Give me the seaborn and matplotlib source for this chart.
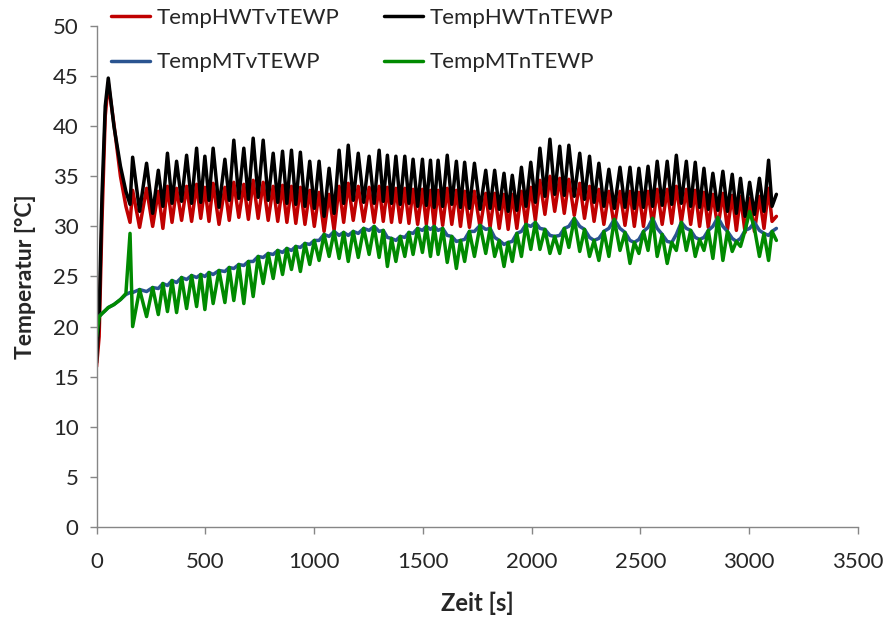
import matplotlib
matplotlib.use("Agg")
import matplotlib.pyplot as plt
import seaborn as sns
import pandas as pd

# time axis [s] (peak / trough sampling points)
zeit = [
    0, 12, 25, 40, 54, 80, 110, 135, 154,
    166, 198, 230, 258, 284, 305, 326, 347, 368, 391,
    414, 437, 460, 479, 498, 517, 536, 563, 590, 610,
    631, 654, 677, 698, 720, 743, 766, 789, 812, 833,
    855, 875, 896, 916, 937, 958, 980, 1001, 1023, 1046,
    1069, 1092, 1115, 1136, 1157, 1180, 1203, 1228, 1253, 1276,
    1299, 1318, 1337, 1356, 1376, 1396, 1417, 1436, 1455, 1476,
    1498, 1516, 1535, 1552, 1570, 1591, 1612, 1633, 1654, 1673,
    1692, 1714, 1737, 1763, 1789, 1809, 1830, 1851, 1873, 1892,
    1911, 1932, 1953, 1974, 1996, 2017, 2038, 2061, 2084, 2106,
    2129, 2150, 2171, 2196, 2221, 2243, 2266, 2287, 2309, 2332,
    2355, 2380, 2406, 2429, 2452, 2472, 2493, 2514, 2535, 2556,
    2577, 2600, 2623, 2644, 2665, 2688, 2711, 2731, 2752, 2772,
    2792, 2812, 2833, 2856, 2879, 2900, 2922, 2941, 2960, 2981,
    3002, 3024, 3047, 3068, 3089, 3105, 3125,
]

temp_hwt_v = [
    16.0, 19.0, 30.5, 41.0, 44.3, 40.2, 35.0, 32.0, 30.4,
    33.6, 29.9, 33.8, 30.0, 33.5, 29.8, 34.0, 30.4, 33.8, 30.6,
    34.0, 30.5, 34.2, 30.8, 33.9, 30.5, 34.3, 30.2, 33.9, 30.6,
    34.4, 30.9, 34.2, 30.7, 34.6, 30.8, 34.4, 30.6, 34.0, 30.5,
    34.1, 30.4, 34.0, 30.3, 33.9, 30.2, 33.6, 30.0, 33.4, 29.5,
    33.2, 29.6, 34.0, 30.4, 34.3, 30.6, 34.0, 30.5, 33.9, 30.4,
    34.0, 30.5, 33.9, 30.4, 33.8, 30.4, 33.8, 30.3, 33.7, 30.2,
    33.7, 30.2, 33.6, 30.1, 33.6, 30.1, 33.8, 30.2, 33.6, 30.0,
    33.5, 29.9, 33.5, 29.9, 33.3, 29.9, 33.3, 29.8, 33.2, 29.7,
    33.2, 29.8, 33.5, 30.2, 33.9, 30.6, 34.6, 31.2, 35.0, 31.5,
    34.8, 31.3, 34.7, 31.1, 34.3, 30.8, 34.0, 30.5, 33.7, 30.2,
    33.5, 30.0, 33.5, 30.1, 33.5, 30.0, 33.4, 30.0, 33.5, 30.1,
    33.7, 30.2, 33.7, 30.3, 34.0, 30.4, 33.7, 30.2, 33.6, 30.0,
    33.4, 29.9, 33.2, 29.8, 33.3, 29.7, 33.1, 29.6, 33.0, 29.4,
    32.8, 29.5, 33.0, 29.8, 33.8, 30.5, 31.0,
]

temp_hwt_n = [
    16.4, 21.0, 33.0, 42.0, 44.8, 40.0, 36.0, 33.5, 32.2,
    36.9, 31.5, 36.3, 31.3, 35.6, 32.0, 37.3, 32.3, 36.5, 32.5,
    37.1, 32.3, 37.8, 32.4, 37.0, 32.6, 37.8, 31.9, 36.7, 32.6,
    38.6, 32.8, 37.8, 32.7, 38.8, 32.9, 38.6, 32.6, 37.3, 32.4,
    37.5, 32.3, 37.6, 32.2, 37.4, 32.0, 36.5, 31.8, 36.5, 31.0,
    35.8, 31.3, 37.6, 32.3, 38.1, 32.6, 37.3, 32.4, 37.0, 32.3,
    37.6, 32.5, 37.1, 32.3, 37.0, 32.2, 37.0, 32.3, 36.7, 32.0,
    36.7, 32.1, 36.6, 31.9, 36.6, 32.0, 37.1, 32.2, 36.5, 31.9,
    36.4, 31.8, 36.3, 31.7, 35.6, 31.8, 35.6, 31.7, 35.3, 31.5,
    35.1, 31.6, 35.9, 32.0, 36.4, 32.4, 37.8, 33.0, 38.7, 33.2,
    38.0, 33.1, 38.1, 33.0, 37.3, 32.7, 37.0, 32.4, 36.3, 32.0,
    35.7, 31.8, 35.9, 31.9, 35.9, 31.8, 35.8, 31.9, 36.0, 32.0,
    36.5, 32.1, 36.5, 32.2, 37.1, 32.3, 36.5, 32.0, 36.4, 31.9,
    35.8, 31.7, 35.3, 31.6, 35.5, 31.5, 35.2, 31.3, 34.8, 31.0,
    34.4, 31.2, 34.8, 31.5, 36.6, 32.0, 33.2,
]

temp_mt_v = [
    20.6, 21.0, 21.3, 21.6, 21.9, 22.2, 22.7, 23.2, 23.4,
    23.4, 23.7, 23.5, 23.9, 23.8, 24.3, 24.1, 24.6, 24.4, 24.9,
    24.7, 25.1, 24.9, 25.2, 25.0, 25.4, 25.2, 25.6, 25.5, 25.9,
    25.8, 26.2, 26.1, 26.5, 26.5, 27.0, 26.9, 27.3, 27.2, 27.6,
    27.4, 27.8, 27.6, 28.0, 27.9, 28.3, 28.2, 28.6, 28.6, 29.2,
    29.0, 29.5, 29.1, 29.4, 29.1, 29.5, 29.3, 29.8, 29.6, 30.0,
    29.5, 29.6, 28.9, 28.8, 28.6, 29.0, 28.9, 29.4, 29.3, 29.8,
    29.6, 30.0, 29.7, 30.0, 29.6, 29.8, 29.1, 29.0, 28.5, 28.6,
    28.7, 29.5, 29.5, 30.1, 29.7, 29.8, 28.9, 28.6, 28.2, 28.4,
    28.5, 29.3, 29.5, 30.2, 30.0, 30.4, 29.8, 29.7, 29.1, 29.0,
    29.1, 29.8, 30.0, 30.8, 30.0, 29.7, 28.9, 28.6, 28.8, 29.5,
    29.8, 30.7, 29.8, 29.4, 28.6, 28.4, 28.7, 29.5, 29.9, 30.8,
    29.8, 29.2, 28.5, 28.4, 29.2, 30.4, 29.8, 29.6, 28.9, 28.7,
    28.9, 29.6, 30.0, 30.9, 30.0, 29.5, 28.8, 28.5, 28.8, 29.6,
    29.8, 30.4, 29.6, 29.3, 29.1, 29.5, 29.8,
]

temp_mt_n = [
    19.0, 21.0, 21.3, 21.6, 21.9, 22.2, 22.7, 23.3, 29.3,
    20.0, 23.7, 21.0, 23.9, 21.2, 24.3, 21.5, 24.6, 21.4, 24.9,
    21.8, 25.1, 22.0, 25.2, 21.7, 25.4, 22.3, 25.6, 22.4, 25.9,
    22.6, 26.2, 22.3, 26.5, 23.0, 27.0, 24.3, 27.3, 24.8, 27.6,
    25.2, 27.8, 25.7, 28.0, 25.5, 28.3, 26.2, 28.6, 26.6, 29.2,
    27.0, 29.5, 26.8, 29.4, 26.5, 29.5, 26.9, 29.8, 27.2, 30.0,
    26.9, 29.6, 26.0, 28.8, 26.5, 29.0, 27.0, 29.4, 27.2, 29.8,
    27.4, 30.0, 27.0, 30.0, 27.2, 29.8, 26.4, 29.0, 25.8, 28.6,
    26.5, 29.5, 27.0, 30.1, 27.3, 29.8, 27.0, 28.6, 26.0, 28.4,
    26.5, 29.3, 27.0, 30.2, 27.7, 30.4, 27.7, 29.7, 27.3, 29.0,
    27.3, 29.8, 27.9, 30.8, 27.5, 29.7, 27.0, 28.6, 26.6, 29.5,
    27.0, 30.7, 27.6, 29.4, 26.3, 28.4, 27.3, 29.5, 27.6, 30.8,
    27.0, 29.2, 26.3, 28.4, 27.6, 30.4, 27.6, 29.6, 27.0, 28.7,
    27.6, 29.6, 26.8, 30.9, 26.6, 29.5, 27.5, 28.5, 28.0, 29.6,
    31.5, 29.8, 27.0, 29.3, 26.6, 29.5, 28.6,
]

series_names = ["TempHWTvTEWP", "TempHWTnTEWP", "TempMTvTEWP", "TempMTnTEWP"]
series_colors = ["#C00000", "#000000", "#2A5490", "#008A00"]
x_ticks = [0, 500, 1000, 1500, 2000, 2500, 3000, 3500]
y_ticks = [0, 5, 10, 15, 20, 25, 30, 35, 40, 45, 50]

frames = []
for name, vals in zip(series_names, [temp_hwt_v, temp_hwt_n, temp_mt_v, temp_mt_n]):
    frames.append(pd.DataFrame({"Zeit": zeit, "Temp": vals, "Serie": name}))
df = pd.concat(frames, ignore_index=True)

sns.set_theme(style="white")
plt.rcParams["font.family"] = ["Lato", "DejaVu Sans"]

fig = plt.figure(figsize=(8.88, 6.18), dpi=100)
ax = fig.add_axes([0.1087, 0.1472, 0.8575, 0.8108])

sns.lineplot(data=df, x="Zeit", y="Temp", hue="Serie", hue_order=series_names,
             palette=series_colors, estimator=None, sort=False, linewidth=2.5,
             ax=ax, legend=True)

ax.set_xlim(0, 3500)
ax.set_ylim(0, 50)
ax.set_xticks(x_ticks)
ax.set_yticks(y_ticks)
ax.tick_params(axis="both", labelsize=16, length=5, width=1, color="#868686",
               direction="out", left=True, bottom=True)
ax.tick_params(axis="x", pad=13)
ax.tick_params(axis="y", pad=8)
for side in ["top", "right"]:
    ax.spines[side].set_visible(False)
for side in ["left", "bottom"]:
    ax.spines[side].set_color("#868686")
    ax.spines[side].set_linewidth(1)

ax.set_xlabel("Zeit [s]", fontsize=17, fontweight="bold", labelpad=14)
ax.set_ylabel("Temperatur [°C]", fontsize=16.5, fontweight="bold", labelpad=12)

handles, labels = ax.get_legend_handles_labels()
order = [0, 2, 1, 3]
for h in handles:
    h.set_linewidth(2.5)
ax.legend([handles[i] for i in order], [labels[i] for i in order], ncol=2,
          frameon=False, fontsize=16, loc="upper left",
          bbox_to_anchor=(111 / 888, 1 - 8 / 618), bbox_transform=fig.transFigure,
          borderpad=0, borderaxespad=0, handlelength=1.75, handletextpad=0.3,
          columnspacing=2.0, labelspacing=1.1)

fig.savefig("out.png", dpi=100)
